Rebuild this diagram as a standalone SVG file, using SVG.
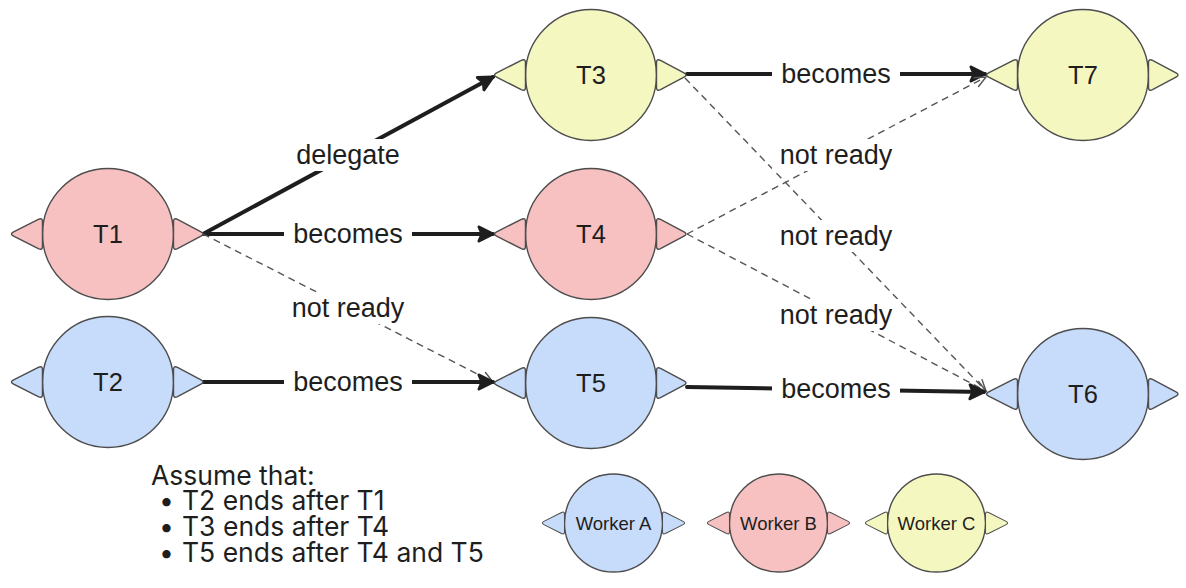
<svg xmlns="http://www.w3.org/2000/svg" xmlns:xlink="http://www.w3.org/1999/xlink" width="1186" height="588" viewBox="0 0 1186 588">
<style>
.nd{stroke:#4d4d4d;stroke-width:1.4}
.pink{fill:#f7c0c1}
.blue{fill:#c7dbfa}
.yel{fill:#f5f7c1}
.lbl{font-family:"Liberation Sans",Arial,sans-serif;font-size:25.5px;fill:#1e1e1e;text-anchor:middle}
.wl{font-family:"Liberation Sans",Arial,sans-serif;font-size:18.5px;fill:#1e1e1e;text-anchor:middle}
.el{font-family:"Liberation Sans",Arial,sans-serif;font-size:27px;fill:#1e1e1e;text-anchor:middle}
.bg{fill:#ffffff}
.solid{stroke:#1e1e1e;stroke-width:4;fill:none;stroke-linecap:round;marker-end:url(#ah)}
.dash{stroke:#555555;stroke-width:1.4;fill:none;stroke-dasharray:7 5;marker-end:url(#ahd)}
.note{font-family:Inter,"Liberation Sans",sans-serif;font-size:26.5px;fill:#1e1e1e}
</style>
<defs>
<path id="tri" d="M0,-12.5 Q0,-16.5 4,-14.6 L27.5,-2.2 Q31.5,0 27.5,2.2 L4,14.6 Q0,16.5 0,12.5 Z"/>
<marker id="ah" markerUnits="userSpaceOnUse" viewBox="-18 -10 22 20" refX="0" refY="0" markerWidth="22" markerHeight="20" orient="auto" overflow="visible">
<path d="M-14,-7 L0,0 L-14,7 L-11,0 Z" fill="#1e1e1e" stroke="#1e1e1e" stroke-width="3" stroke-linecap="round" stroke-linejoin="round"/>
</marker>
<marker id="ahd" markerUnits="userSpaceOnUse" viewBox="-14 -8 16 16" refX="0" refY="0" markerWidth="16" markerHeight="16" orient="auto" overflow="visible">
<path d="M-11,-5 L0,0 L-11,5" fill="none" stroke="#555555" stroke-width="1.4" stroke-linecap="round"/>
</marker>
</defs>

<g id="connectors">
<line class="solid" x1="203" y1="234" x2="493" y2="77"/>
<line class="solid" x1="203" y1="234" x2="493" y2="234"/>
<line class="dash" x1="203" y1="234" x2="493" y2="382"/>
<line class="solid" x1="203" y1="382" x2="493" y2="382"/>
<line class="solid" x1="687" y1="74" x2="985" y2="74"/>
<line class="dash" x1="687" y1="234" x2="986" y2="77"/>
<line class="dash" x1="685" y1="78" x2="986" y2="391"/>
<line class="dash" x1="687" y1="234" x2="986" y2="391"/>
<line class="solid" x1="687" y1="387" x2="984" y2="392"/>
<rect class="bg" x="288" y="139" width="120" height="32"/>
<text class="el" x="348" y="164">delegate</text>
<rect class="bg" x="284" y="218" width="128" height="32"/>
<text class="el" x="348" y="243">becomes</text>
<rect class="bg" x="284" y="292" width="128" height="32"/>
<text class="el" x="348" y="317">not ready</text>
<rect class="bg" x="284" y="366" width="128" height="32"/>
<text class="el" x="348" y="391">becomes</text>
<rect class="bg" x="772" y="58" width="128" height="32"/>
<text class="el" x="836" y="83">becomes</text>
<rect class="bg" x="772" y="139" width="128" height="32"/>
<text class="el" x="836" y="164">not ready</text>
<rect class="bg" x="772" y="220" width="128" height="32"/>
<text class="el" x="836" y="245">not ready</text>
<rect class="bg" x="772" y="299" width="128" height="32"/>
<text class="el" x="836" y="324">not ready</text>
<rect class="bg" x="772" y="373" width="128" height="32"/>
<text class="el" x="836" y="398">becomes</text>
</g>

<g id="T1">
<circle class="nd pink" cx="108" cy="234" r="65.5"/>
<use xlink:href="#tri" class="nd pink" transform="translate(42.5,234) scale(-1.05,1)"/>
<use xlink:href="#tri" class="nd pink" transform="translate(173.5,234)"/>
<text class="lbl" x="108" y="243">T1</text>
</g>
<g id="T2">
<circle class="nd blue" cx="108" cy="382" r="65.5"/>
<use xlink:href="#tri" class="nd blue" transform="translate(42.5,382) scale(-1.05,1)"/>
<use xlink:href="#tri" class="nd blue" transform="translate(173.5,382)"/>
<text class="lbl" x="108" y="391">T2</text>
</g>
<g id="T3">
<circle class="nd yel" cx="591" cy="75" r="65.5"/>
<use xlink:href="#tri" class="nd yel" transform="translate(525.5,75) scale(-1.05,1)"/>
<use xlink:href="#tri" class="nd yel" transform="translate(656.5,75)"/>
<text class="lbl" x="591" y="84">T3</text>
</g>
<g id="T4">
<circle class="nd pink" cx="591" cy="234" r="65.5"/>
<use xlink:href="#tri" class="nd pink" transform="translate(525.5,234) scale(-1.05,1)"/>
<use xlink:href="#tri" class="nd pink" transform="translate(656.5,234)"/>
<text class="lbl" x="591" y="243">T4</text>
</g>
<g id="T5">
<circle class="nd blue" cx="591" cy="383" r="65.5"/>
<use xlink:href="#tri" class="nd blue" transform="translate(525.5,383) scale(-1.05,1)"/>
<use xlink:href="#tri" class="nd blue" transform="translate(656.5,383)"/>
<text class="lbl" x="591" y="392">T5</text>
</g>
<g id="T7">
<circle class="nd yel" cx="1083" cy="75" r="65.5"/>
<use xlink:href="#tri" class="nd yel" transform="translate(1017.5,75) scale(-1.05,1)"/>
<use xlink:href="#tri" class="nd yel" transform="translate(1148.5,75)"/>
<text class="lbl" x="1083" y="84">T7</text>
</g>
<g id="T6">
<circle class="nd blue" cx="1083" cy="394" r="65.5"/>
<use xlink:href="#tri" class="nd blue" transform="translate(1017.5,394) scale(-1.05,1)"/>
<use xlink:href="#tri" class="nd blue" transform="translate(1148.5,394)"/>
<text class="lbl" x="1083" y="403">T6</text>
</g>

<g id="WorkerA">
<circle class="nd blue" cx="613.5" cy="523" r="49"/>
<use xlink:href="#tri" class="nd blue" transform="translate(564.5,523) scale(-0.75,0.72)"/>
<use xlink:href="#tri" class="nd blue" transform="translate(662.5,523) scale(0.75,0.72)"/>
<text class="wl" x="613.5" y="529.5">Worker A</text>
</g>
<g id="WorkerB">
<circle class="nd pink" cx="778.5" cy="523" r="49"/>
<use xlink:href="#tri" class="nd pink" transform="translate(729.5,523) scale(-0.75,0.72)"/>
<use xlink:href="#tri" class="nd pink" transform="translate(827.5,523) scale(0.75,0.72)"/>
<text class="wl" x="778.5" y="529.5">Worker B</text>
</g>
<g id="WorkerC">
<circle class="nd yel" cx="936.5" cy="523" r="49"/>
<use xlink:href="#tri" class="nd yel" transform="translate(887.5,523) scale(-0.75,0.72)"/>
<use xlink:href="#tri" class="nd yel" transform="translate(985.5,523) scale(0.75,0.72)"/>
<text class="wl" x="936.5" y="529.5">Worker C</text>
</g>

<g id="note">
<text class="note" x="151" y="485">Assume that:</text>
<text class="note" x="159" y="510">• <tspan x="182">T2 ends after T1</tspan></text>
<text class="note" x="159" y="536">• <tspan x="182">T3 ends after T4</tspan></text>
<text class="note" x="159" y="562">• <tspan x="182">T5 ends after T4 and T5</tspan></text>
</g>
</svg>
